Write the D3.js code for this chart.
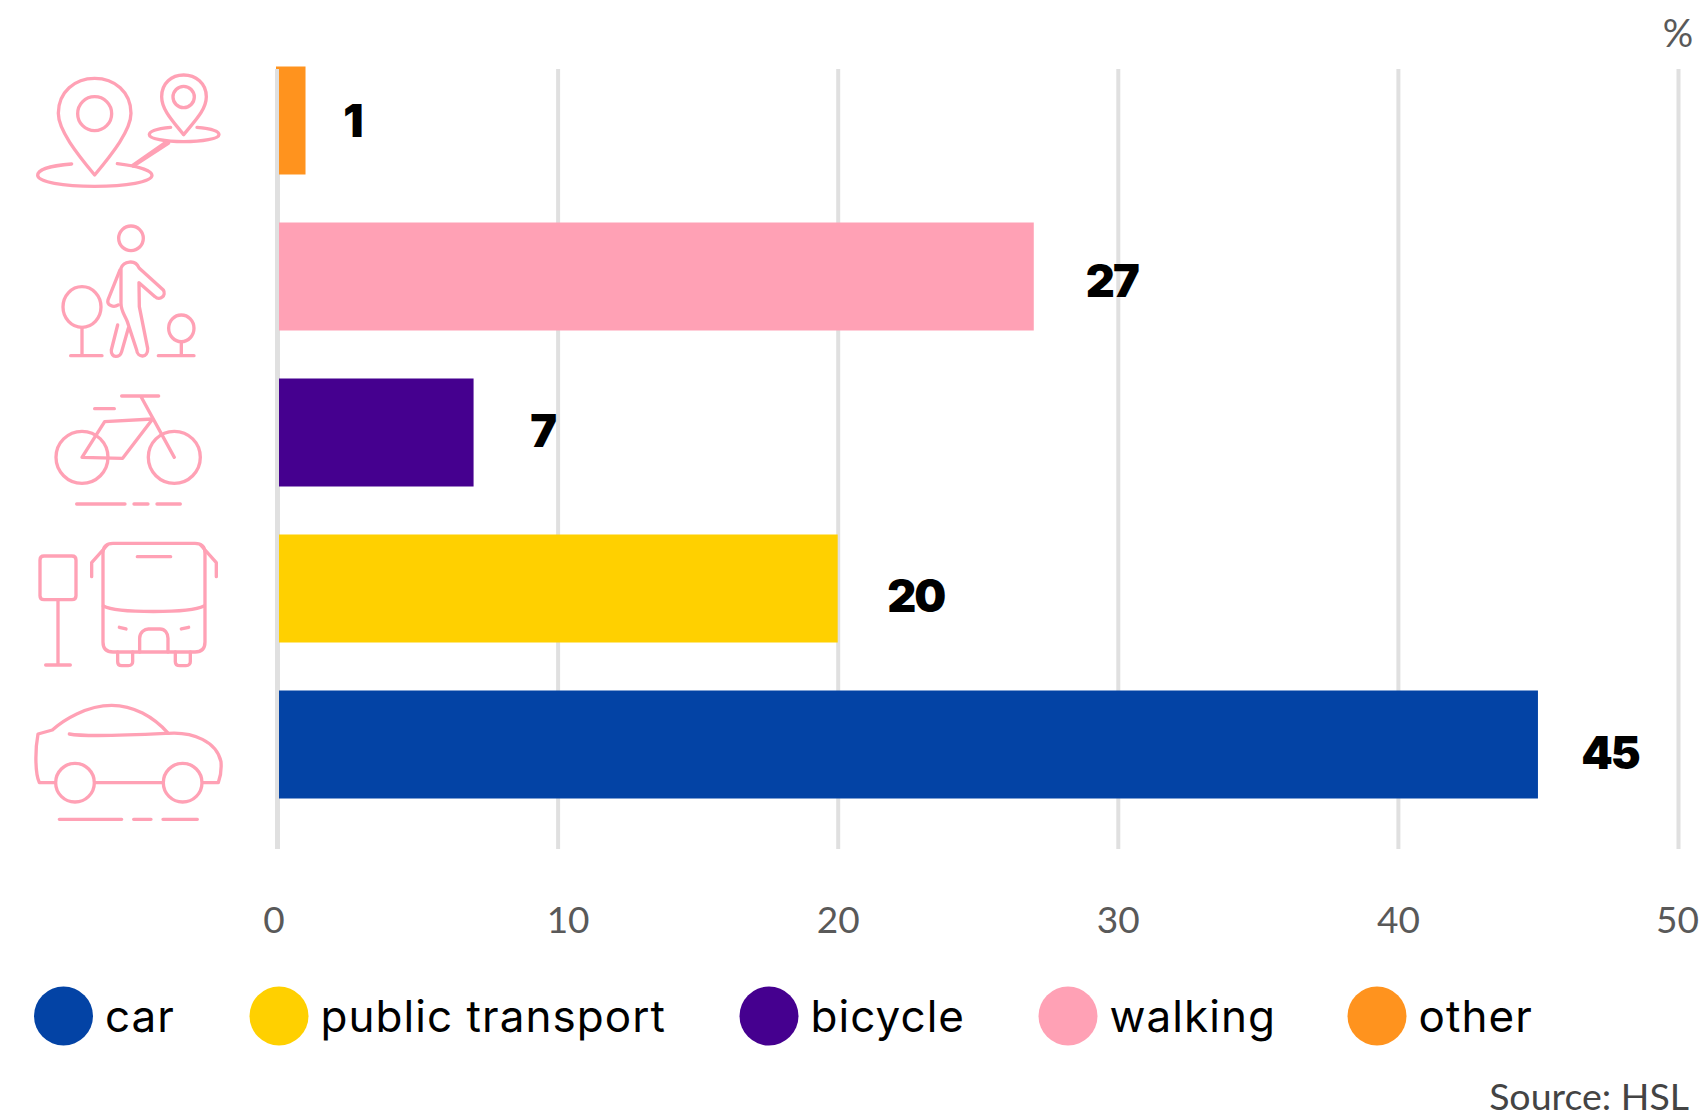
<!DOCTYPE html>
<html lang="en">
	<head>
		<meta charset="utf-8">
		<title>Modal split</title>
		<script src="https://d3js.org/d3.v7.min.js"></script>
		<style type="text/css">
			body { margin: 0; background: #fff; }
			svg { display: block; }
			text { font-family: Lato, sans-serif; }
		</style>
	</head>
	<body>
		<script type="text/javascript">

			//Data
			var categories = ["other", "walking", "bicycle", "public transport", "car"];
			var values = [1, 27, 7, 20, 45];
			var colors = ["#ff931e", "#ffa1b5", "#45008f", "#ffd000", "#0343a5"];
			var legendOrder = ["car", "public transport", "bicycle", "walking", "other"];
			var xTicks = [0, 10, 20, 30, 40, 50];

			//Width and height
			var w = 1707;
			var h = 1119;
			var pink = "#ffa1b5";

			var svg = d3.select("body")
						.append("svg")
						.attr("width", w)
						.attr("height", h);

			var x = d3.scaleLinear().domain([0, 50]).range([277.5, 1678]);
			var y = d3.scaleBand().domain(categories).range([66.5, 798.5]).paddingInner(48 / 156);
			var color = d3.scaleOrdinal().domain(categories).range(colors);

			//Grid and tick labels come from the axis
			var axis = d3.axisBottom(x)
						.tickValues(xTicks)
						.tickFormat(d3.format("d"))
						.tickSize(-780)
						.tickPadding(58);

			var axisG = svg.append("g")
				.attr("transform", "translate(0,849)")
				.call(axis);
			axisG.select(".domain").remove();
			axisG.selectAll("line").attr("stroke", "#e0e0e0").attr("stroke-width", 4);
			axisG.selectAll("text")
				.attr("fill", "#595959")
				.attr("font-size", "37px")
				.attr("dx", function(d) { return d === 10 ? 10 : d === 0 ? -4 : d === 50 ? -1 : 0; });

			//Bars
			svg.selectAll("rect.bar")
			   .data(values)
			   .enter()
			   .append("rect")
			   .attr("class", "bar")
			   .attr("x", x(0) - 1.5)
			   .attr("y", function(d, i) { return y(categories[i]); })
			   .attr("width", function(d) { return x(d) - x(0) + 1.5; })
			   .attr("height", y.bandwidth())
			   .attr("fill", function(d, i) { return color(categories[i]); });

			//Zero line sits above the bars
			svg.append("line")
				.attr("x1", x(0) - 0.5).attr("x2", x(0) - 0.5)
				.attr("y1", 69).attr("y2", 849)
				.attr("stroke", "#e0e0e0")
				.attr("stroke-width", 4);

			//Value labels, placed by hand like the original
			var labelDx = [47, 78, 69, 78, 72];
			var labelDy = [16, 20, 14, 23.5, 24.5];
			svg.selectAll("text.value")
			   .data(values)
			   .enter()
			   .append("text")
			   .attr("class", "value")
			   .text(function(d) { return d; })
			   .attr("text-anchor", "middle")
			   .attr("x", function(d, i) { return x(d) + labelDx[i]; })
			   .attr("y", function(d, i) { return y(categories[i]) + y.bandwidth() / 2 + labelDy[i]; })
			   .attr("font-size", "45px")
			   .attr("font-weight", 900)
			   .attr("letter-spacing", "-2px")
			   .style("font-family", "Inter, sans-serif")
			   .attr("fill", "#000");

			//Icons, drawn at 3x and scaled down
			var icons = [
				{ tx: 20, ty: 50, d: [
					"M224 375C170 310 115 240 115 190C115 125 165 85 224 85C283 85 333 125 333 190C333 240 278 310 224 375Z",
					"M155 342C90 347 53 360 53 376C53 396 130 409 224 409C318 409 396 396 396 376C396 360 350 348 292 341",
					"M491 254C460 215 425 180 425 140C425 100 455 75 491 75C527 75 559 100 559 140C559 180 522 215 491 254Z",
					"M452 232C415 235 388 243 388 254C388 266 435 275 491 275C547 275 597 266 597 254C597 243 570 235 531 232",
					"M338 346L436 278",
					"M340 348L446 279",
					"M303 655C310 635 345 625 358 655L430 720C440 735 420 755 405 740L357 698L358 770L383 895C385 925 352 925 350 900L322 815C315 795 303 785 303 760Z",
					"M300 660L264 750C260 765 280 775 295 765",
					"M293 825L274 900C272 925 300 925 305 905L325 835",
					"M186 832V917M152 917H246",
					"M484 875V917M415 917H522"
				], circles: [[224, 191, 51], [491, 141, 32], [333, 565, 37]],
				   ellipses: [[186, 771, 57, 61], [484, 835, 38, 40]] },
				{ tx: 20, ty: 370, d: [
					"M186 262L254 155L398 147L308 265Z",
					"M463 262L362 78M305 78H416M224 116H283",
					"M170 402H315M342 402H384M411 402H481",
					"M72 558H156Q168 558 168 570V677Q168 689 156 689H72Q60 689 60 677V570Q60 558 72 558Z",
					"M114 689V885M77 885H151",
					"M279 520H525Q555 520 555 550V816Q555 846 525 846H279Q249 846 249 816V550Q249 520 279 520Z",
					"M262 525L215 578V620M542 525L589 578V620M352 560H452",
					"M250 708C290 730 510 730 552 708",
					"M298 772L318 777M484 777L506 772",
					"M359 846V805C359 785 375 777 385 777H420C435 777 444 790 444 805V846",
					"M293 846V875C293 885 300 887 305 887H325C335 887 338 880 338 875V846",
					"M466 846V875C466 885 475 887 480 887H498C508 887 511 880 511 875V846"
				], circles: [[186, 262, 78], [463, 262, 78]], ellipses: [] },
				{ tx: 20, ty: 680, d: [
					"M105 308H58C45 280 45 210 54 162L97 150C130 120 200 76 275 76C340 76 400 110 445 160C520 155 590 185 603 245C605 270 600 295 595 308H548",
					"M225 308H428",
					"M148 162C200 172 340 165 445 160",
					"M118 418H305M341 418H393M429 418H532"
				], circles: [[165, 308, 58], [488, 308, 58]], ellipses: [] }
			];

			var iconG = svg.selectAll("g.icon")
				.data(icons)
				.enter()
				.append("g")
				.attr("class", "icon")
				.attr("transform", function(d) { return "translate(" + d.tx + "," + d.ty + ") scale(0.3333)"; })
				.attr("fill", "none")
				.attr("stroke", pink)
				.attr("stroke-width", 10)
				.attr("stroke-linecap", "round")
				.attr("stroke-linejoin", "round");

			iconG.selectAll("path")
				.data(function(d) { return d.d; })
				.enter()
				.append("path")
				.attr("d", function(d) { return d; });
			iconG.selectAll("circle")
				.data(function(d) { return d.circles; })
				.enter()
				.append("circle")
				.attr("cx", function(d) { return d[0]; })
				.attr("cy", function(d) { return d[1]; })
				.attr("r", function(d) { return d[2]; });
			iconG.selectAll("ellipse")
				.data(function(d) { return d.ellipses; })
				.enter()
				.append("ellipse")
				.attr("cx", function(d) { return d[0]; })
				.attr("cy", function(d) { return d[1]; })
				.attr("rx", function(d) { return d[2]; })
				.attr("ry", function(d) { return d[3]; });

			//Legend
			var legendX = [63.5, 279, 769, 1068, 1377];
			var legend = svg.selectAll("g.legend")
				.data(legendOrder)
				.enter()
				.append("g")
				.attr("class", "legend")
				.attr("transform", function(d, i) { return "translate(" + legendX[i] + ",1016)"; });
			legend.append("circle")
				.attr("r", 29.5)
				.attr("fill", function(d) { return color(d); });
			legend.append("text")
				.text(function(d) { return d; })
				.attr("x", 41.5)
				.attr("y", 16)
				.attr("font-size", "44px")
				.attr("letter-spacing", "1.05px")
				.style("font-family", "Inter, sans-serif")
				.attr("fill", "#000");

			//Unit and source
			svg.append("text")
				.text("%")
				.attr("text-anchor", "middle")
				.attr("x", 1678)
				.attr("y", 47)
				.attr("font-size", "38px")
				.attr("fill", "#595959");
			svg.append("text")
				.text("Source: HSL")
				.attr("text-anchor", "end")
				.attr("x", 1689)
				.attr("y", 1110)
				.attr("font-size", "37.5px")
				.attr("fill", "#444444");

		</script>
	</body>
</html>
